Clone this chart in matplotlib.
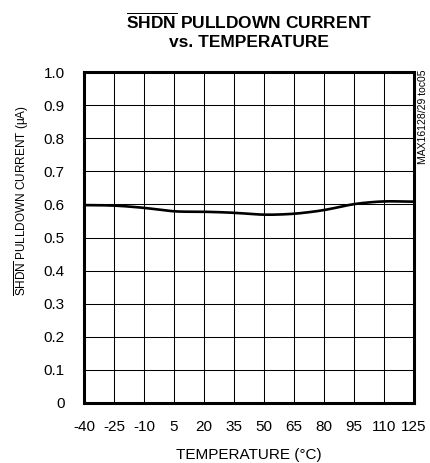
import numpy as np
import matplotlib
matplotlib.use("Agg")
import matplotlib.pyplot as plt

# data
temperature = [-40, -25, -10, 5, 20, 35, 50, 65, 80, 95, 110, 125]
pulldown_ua = [0.598, 0.597, 0.590, 0.578, 0.578, 0.575, 0.568, 0.571, 0.582, 0.602, 0.610, 0.608]

x_ticks = list(range(-40, 126, 15))
y_ticks = [0, 0.1, 0.2, 0.3, 0.4, 0.5, 0.6, 0.7, 0.8, 0.9, 1.0]
y_tick_labels = ["0", "0.1", "0.2", "0.3", "0.4", "0.5", "0.6", "0.7", "0.8", "0.9", "1.0"]

plt.rcParams["font.family"] = ["Liberation Sans", "DejaVu Sans"]
plt.rcParams["mathtext.fontset"] = "custom"
plt.rcParams["mathtext.rm"] = "Liberation Sans"
plt.rcParams["mathtext.bf"] = "Liberation Sans:bold"

fig = plt.figure(figsize=(4.30, 4.63), dpi=100)
ax = fig.add_axes([84 / 430, 60 / 463, 330 / 430, 331 / 463])

# smooth the read points a little so the curve looks like the scope trace
tt = np.linspace(temperature[0], temperature[-1], 200)
ii = np.interp(tt, temperature, pulldown_ua)
k = np.ones(15) / 15
ii = np.convolve(np.pad(ii, 7, mode="edge"), k, mode="valid")
ax.plot(tt, ii, color="black", lw=1.9, solid_capstyle="butt", zorder=3)

ax.set_xlim(-40, 125)
ax.set_ylim(0, 1.0)
ax.set_xticks(x_ticks)
ax.set_xticklabels([str(t) for t in x_ticks])
ax.set_yticks(y_ticks)
ax.set_yticklabels(y_tick_labels)
ax.tick_params(length=0, labelsize=11)
ax.tick_params(axis="x", pad=12)
ax.tick_params(axis="y", pad=14)
ax.grid(True, color="black", lw=0.75)
for s in ax.spines.values():
    s.set_linewidth(2.2)

ax.set_xlabel("TEMPERATURE (°C)", fontsize=11, labelpad=10)
ax.set_title(r"$\overline{\mathbf{SHDN}}$ PULLDOWN CURRENT" + "\nvs. TEMPERATURE",
             fontsize=12.5, fontweight="bold", pad=18, linespacing=1.25)

fig.text(22 / 430, 1 - 201 / 463, r"$\overline{\mathrm{SHDN}}$ PULLDOWN CURRENT (μA)",
         rotation=90, ha="center", va="center", fontsize=8.5)
fig.text(423 / 430, 1 - 70 / 463, "MAX16128/29 toc05", rotation=90,
         ha="center", va="top", fontsize=7.5)

fig.savefig("out.png", dpi=100)
